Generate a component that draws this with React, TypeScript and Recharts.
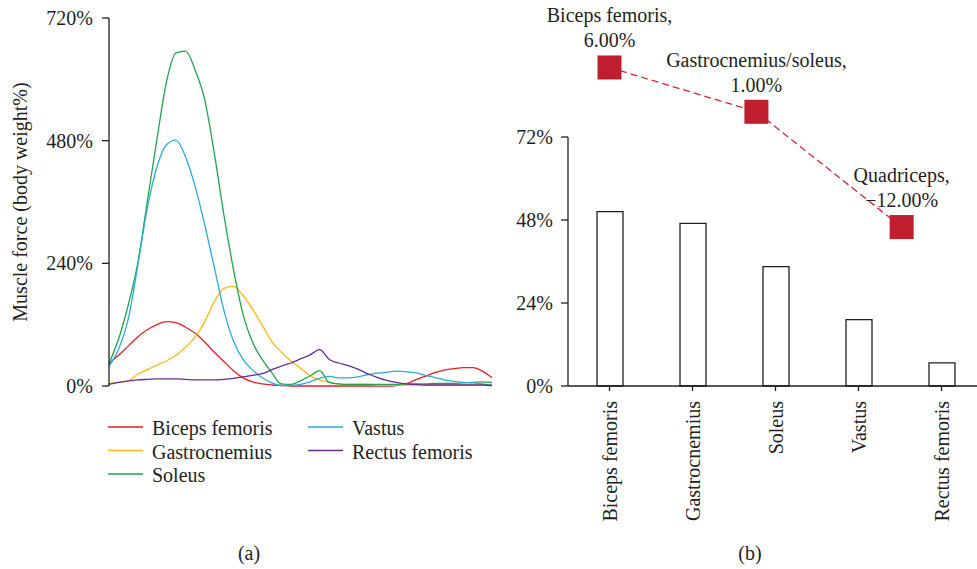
import React from 'react';
import { LineChart, Line, XAxis, YAxis, BarChart, Bar } from 'recharts';

const FONT = '"Liberation Serif", "Times New Roman", serif';
const INK = '#231F20';

// (a) muscle force over the gait cycle (%), sampled every 2.5%
const cycle = [0, 2.5, 5, 7.5, 10, 12.5, 15, 17.5, 20, 22.5, 25, 27.5, 30, 32.5, 35, 37.5, 40, 42.5, 45, 47.5, 50,
  52.5, 55, 57.5, 60, 62.5, 65, 67.5, 70, 72.5, 75, 77.5, 80, 82.5, 85, 87.5, 90, 92.5, 95, 97.5, 100];
const bicepsFemoris = [44, 60, 78, 96, 110, 120, 126, 124, 115, 103, 86, 66, 48, 30, 16, 8, 4, 2, 1, 0, 0,
  0, 0, 0, 0, 0, 0, 0, 0, 0, 1, 4, 12, 19, 26, 31, 34, 36, 36, 29, 16];
const gastrocnemius = [5, 7, 10, 23, 32, 41, 49, 60, 76, 96, 126, 165, 191, 195, 177, 150, 119, 87, 66, 49, 35,
  20, 12, 7, 4, 3, 3, 3, 2, 2, 2, 2, 2, 2, 2, 2, 2, 2, 2, 2, 2];
const soleus = [44, 92, 158, 240, 361, 482, 595, 652, 655, 618, 560, 455, 335, 228, 140, 85, 52, 26, 4, 3, 10,
  20, 30, 7, 4, 3, 3, 3, 3, 3, 3, 4, 4, 4, 5, 5, 5, 6, 7, 8, 7];
const vastus = [39, 72, 130, 235, 348, 428, 472, 481, 448, 390, 315, 232, 148, 88, 52, 31, 16, 6, 1, 1, 3,
  8, 15, 19, 16, 16, 18, 22, 25, 27, 29, 28, 26, 21, 17, 12, 9, 7, 6, 4, 1];
const rectusFemoris = [3, 7, 10, 12, 13, 14, 14, 14, 13, 12, 12, 12, 13, 15, 18, 21, 24, 32, 39, 45, 53,
  61, 71, 52, 45, 40, 33, 24, 17, 11, 7, 4, 3, 2, 2, 2, 2, 2, 2, 2, 1];
const forceTicks = [0, 240, 480, 720];

// (b) share of each muscle (%) and change per muscle group
const muscles = ['Biceps femoris', 'Gastrocnemius', 'Soleus', 'Vastus', 'Rectus femoris'];
const shares = [50.4, 47.0, 34.5, 19.2, 6.7];
const shareTicks = [0, 24, 48, 72];
const groups = ['Biceps femoris', 'Gastrocnemius/soleus', 'Quadriceps'];
const groupPos = [0, 1.77, 3.52];
const groupChange = [6, 1, -12];

const series = [
  { key: 'bf', name: 'Biceps femoris', color: '#ED1C24', values: bicepsFemoris },
  { key: 'ga', name: 'Gastrocnemius', color: '#FDB913', values: gastrocnemius },
  { key: 'so', name: 'Soleus', color: '#1FA64A', values: soleus },
  { key: 'va', name: 'Vastus', color: '#29ABE2', values: vastus },
  { key: 'rf', name: 'Rectus femoris', color: '#662D91', values: rectusFemoris },
];

const forceData = cycle.map((x, i) => {
  const row: any = { x };
  series.forEach((s) => { row[s.key] = s.values[i]; });
  return row;
});
const shareData = muscles.map((muscle, i) => ({ muscle, share: shares[i] }));
const groupData = groups.map((name, i) => ({ name, pos: groupPos[i], change: groupChange[i] }));

const axisStyle = { stroke: INK, strokeWidth: 1.3 };
const tickText = { fill: INK, fontSize: 20, fontFamily: FONT };

// rotated category labels under the bars
const MuscleTick = ({ x, y, payload }: any) => (
  <g transform={`translate(${x},${y + 8}) rotate(-90)`}>
    <text x={0} y={0} dy={7} textAnchor="end" fill={INK} fontSize={20} fontFamily={FONT}>
      {payload.value}
    </text>
  </g>
);

// red square with its two-line label
const GroupDot = (props: any) => {
  const { cx, cy, payload, index } = props;
  const pct = `${payload.change.toFixed(2)}%`.replace('-', '\u2212');
  return (
    <g key={`grp-${index}`}>
      <rect x={cx - 12} y={cy - 12} width={24} height={24} fill="#BE1E2D" />
      <text x={cx} y={cy - 45} textAnchor="middle" fill={INK} fontSize={20} fontFamily={FONT}>{`${payload.name},`}</text>
      <text x={cx} y={cy - 20} textAnchor="middle" fill={INK} fontSize={20} fontFamily={FONT}>{pct}</text>
    </g>
  );
};

export default function App() {
  return (
    <div style={{ position: 'fixed', left: 0, top: 0, width: 977, height: 569, overflow: 'hidden', background: '#fff' }}>
      {/* (a) */}
      <div style={{ position: 'absolute', left: 0, top: 0 }}>
        <LineChart width={500} height={400} data={forceData} margin={{ top: 18, right: 8, bottom: 14, left: 0 }}>
          <XAxis dataKey="x" type="number" domain={[0, 100]} hide />
          <YAxis
            width={109}
            domain={[0, 720]}
            ticks={forceTicks}
            interval={0}
            tickFormatter={(v) => `${v}%`}
            axisLine={axisStyle}
            tickLine={axisStyle}
            tickSize={7}
            tickMargin={9}
            tick={tickText}
            label={{
              value: 'Muscle force (body weight%)', angle: -90, position: 'insideLeft', offset: 20,
              textAnchor: 'middle', fill: INK, fontSize: 20, fontFamily: FONT,
            }}
          />
          {series.map((s) => (
            <Line key={s.key} dataKey={s.key} name={s.name} type="monotone" stroke={s.color}
              strokeWidth={1.3} dot={false} isAnimationActive={false} />
          ))}
        </LineChart>
      </div>

      {/* (b) bars */}
      <div style={{ position: 'absolute', left: 500, top: 0 }}>
        <BarChart width={490} height={569} data={shareData} margin={{ top: 137, right: 7, bottom: 23, left: 0 }} barSize={26}>
          <XAxis dataKey="muscle" height={160} interval={0} tickSize={5} axisLine={axisStyle} tickLine={axisStyle}
            tick={<MuscleTick />} />
          <YAxis width={68} domain={[0, 72]} ticks={shareTicks} interval={0} tickFormatter={(v) => `${v}%`}
            axisLine={axisStyle} tickLine={axisStyle} tickSize={7} tickMargin={8} tick={tickText} />
          <Bar dataKey="share" fill="#fff" stroke={INK} strokeWidth={1.3} isAnimationActive={false} />
        </BarChart>
      </div>

      {/* (b) group changes */}
      <div style={{ position: 'absolute', left: 500, top: 0 }}>
        <LineChart width={490} height={298} data={groupData} margin={{ top: 32, right: 7, bottom: 0, left: 68 }}>
          <XAxis dataKey="pos" type="number" domain={[-0.5, 4.5]} hide />
          <YAxis type="number" domain={[-20, 10]} hide />
          <Line dataKey="change" type="linear" stroke="#D8262E" strokeWidth={1.3} strokeDasharray="7 4"
            dot={(p: any) => <GroupDot {...p} />} isAnimationActive={false} />
        </LineChart>
      </div>

      {/* legend and captions */}
      <svg width={977} height={569} style={{ position: 'absolute', left: 0, top: 0, pointerEvents: 'none' }}>
        {series.map((s, i) => {
          const col = Math.floor(i / 3);
          const row = i % 3;
          const lx = 108 + col * 200;
          const by = 435 + row * 23.5;
          return (
            <g key={s.key}>
              <line x1={lx} x2={lx + 35} y1={by - 8} y2={by - 8} stroke={s.color} strokeWidth={1.5} />
              <text x={lx + 44} y={by} fill={INK} fontSize={20} fontFamily={FONT}>{s.name}</text>
            </g>
          );
        })}
        <text x={249} y={560} textAnchor="middle" fill={INK} fontSize={20} fontFamily={FONT}>(a)</text>
        <text x={750} y={560} textAnchor="middle" fill={INK} fontSize={20} fontFamily={FONT}>(b)</text>
      </svg>
    </div>
  );
}
